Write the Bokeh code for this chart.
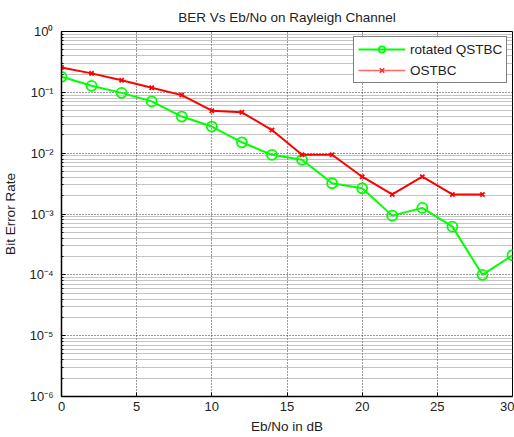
from bokeh.plotting import figure
from bokeh.models import (FixedTicker, CustomJSTickFormatter, Legend, LegendItem, Range1d)
from bokeh.embed import file_html
from bokeh.resources import INLINE

ebno = [0, 2, 4, 6, 8, 10, 12, 14, 16, 18, 20, 22, 24, 26, 28, 30]
ber_qstbc = [0.18, 0.128, 0.098, 0.071, 0.040, 0.0274, 0.0151, 0.0094, 0.0078,
             0.0032, 0.00265, 0.00094, 0.00126, 0.00062, 0.0001, 0.00021]
ebno_ostbc = [0, 2, 4, 6, 8, 10, 12, 14, 16, 18, 20, 22, 24, 26, 28]
ber_ostbc = [0.256, 0.205, 0.158, 0.119, 0.090, 0.050, 0.047, 0.024, 0.0094,
             0.0094, 0.0041, 0.0021, 0.0041, 0.0021, 0.0021]

x_ticks = [0, 5, 10, 15, 20, 25, 30]
y_decades = [-6, -5, -4, -3, -2, -1, 0]

FONT = "Liberation Sans"

p = figure(width=514, height=436, x_axis_type="linear", y_axis_type="log",
           x_range=Range1d(0, 30), y_range=Range1d(1e-6, 1),
           output_backend="svg", toolbar_location=None,
           title="BER Vs Eb/No on Rayleigh Channel",
           min_border_left=60, min_border_top=30, min_border_bottom=33,
           min_border_right=2)

p.title.align = "center"
p.title.text_font = FONT
p.title.text_font_size = "13.5px"
p.title.text_font_style = "normal"
p.title.text_color = "#222222"
p.title.standoff = 14

major_y = [10.0 ** e for e in y_decades]
minor_y = [k * 10.0 ** e for e in y_decades[:-1] for k in range(2, 10)]
yticker = FixedTicker(ticks=major_y, minor_ticks=minor_y)
xticker = FixedTicker(ticks=x_ticks, minor_ticks=[])

fmt = CustomJSTickFormatter(code="""
const e = Math.round(Math.log10(tick));
const m = {'-':'\\u207b','0':'\\u2070','1':'\\u00b9','2':'\\u00b2','3':'\\u00b3',
           '4':'\\u2074','5':'\\u2075','6':'\\u2076','7':'\\u2077','8':'\\u2078','9':'\\u2079'};
return '10' + String(e).split('').map(c => m[c]).join('');
""")

p.yaxis.ticker = yticker
p.yaxis.formatter = fmt
p.xaxis.ticker = xticker

for ax in [p.xaxis[0], p.yaxis[0]]:
    ax.major_tick_in = 4
    ax.major_tick_out = 0
    ax.minor_tick_in = 2
    ax.minor_tick_out = 0
    ax.axis_line_color = "black"
    ax.axis_line_width = 1.5
    ax.major_label_text_font = FONT
    ax.major_label_text_font_size = "13px"
    ax.major_label_text_color = "#222222"
    ax.axis_label_text_font = FONT
    ax.axis_label_text_font_size = "13.5px"
    ax.axis_label_text_font_style = "normal"
    ax.axis_label_text_color = "#222222"

p.xaxis.axis_label = "Eb/No in dB"
p.yaxis.axis_label = "Bit Error Rate"
p.xaxis.major_label_standoff = 5
p.xaxis.axis_label_standoff = 5
p.yaxis.major_label_standoff = 8
p.yaxis.axis_label_standoff = 8

p.outline_line_color = "black"
p.outline_line_width = 1

p.xgrid.grid_line_color = "#333333"
p.xgrid.grid_line_dash = "1 2"
p.ygrid.grid_line_color = "#333333"
p.ygrid.grid_line_dash = "1 2"
p.ygrid.minor_grid_line_color = "#888888"
p.ygrid.minor_grid_line_dash = "1 1"

GREEN = "#00ff00"
RED = "#ff0000"

g_line = p.line(ebno, ber_qstbc, line_color=GREEN, line_width=2)
g_mark = p.scatter(ebno, ber_qstbc, marker="circle", size=10, line_color=GREEN,
                   fill_color=None, line_width=1.8)
r_line = p.line(ebno_ostbc, ber_ostbc, line_color=RED, line_width=2)
r_mark = p.scatter(ebno_ostbc, ber_ostbc, marker="x", size=6, line_color=RED,
                   line_width=1.8)

# legend-only renderers (hidden on the plot)
lr_line = p.line(ebno_ostbc[:2], ber_ostbc[:2], line_color="#ff6a6a", line_width=1.3,
                 visible=False)
lr_mark = p.scatter(ebno_ostbc[:1], ber_ostbc[:1], marker="x", size=5,
                    line_color="#ff2020", line_width=1.3, visible=False)

legend = Legend(items=[LegendItem(label="rotated QSTBC", renderers=[g_line, g_mark]),
                       LegendItem(label="OSTBC", renderers=[lr_line, lr_mark])],
                location=(292, 313))
legend.margin = 0
legend.padding = 4
legend.spacing = 5
legend.glyph_width = 47
legend.glyph_height = 16
legend.label_height = 16
legend.label_standoff = 5
legend.label_text_font = FONT
legend.label_text_font_size = "13.5px"
legend.label_text_color = "#222222"
legend.border_line_color = "black"
legend.border_line_width = 1.5
legend.background_fill_color = "white"
legend.background_fill_alpha = 1
p.add_layout(legend, "center")

open("out.html", "w").write(file_html(p, INLINE))
